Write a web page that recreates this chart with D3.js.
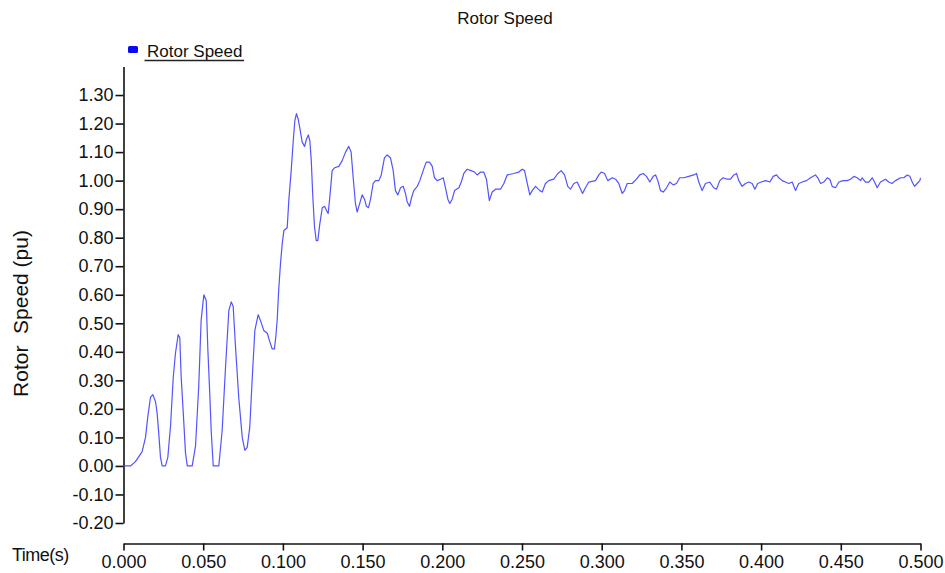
<!DOCTYPE html>
<html>
<head>
<meta charset="utf-8">
<script src="https://cdn.jsdelivr.net/npm/d3@7"></script>
<style>
  body { margin: 0; background: #fff; }
  text { font-family: "Liberation Sans", Arial, sans-serif; fill: #111; }
</style>
</head>
<body>
<div id="chart"></div>
<script>
/* Rotor Speed vs time */

// time (s), speed (pu)
const startup = [
  [0.0000,0.000],[0.0044,0.000],[0.0075,0.015],[0.0117,0.050],[0.0138,0.100],[0.0152,0.170],[0.0169,0.240],[0.0184,0.250],
  [0.0201,0.225],[0.0211,0.185],[0.0221,0.115],[0.0232,0.030],[0.0243,0.000],[0.0263,0.000],[0.0278,0.030],[0.0295,0.140],
  [0.0312,0.310],[0.0326,0.395],[0.0343,0.460],[0.0353,0.450],[0.0362,0.310],[0.0375,0.185],[0.0389,0.045],[0.0400,0.000],
  [0.0431,0.000],[0.0452,0.070],[0.0472,0.280],[0.0487,0.510],[0.0504,0.600],[0.0519,0.580],[0.0529,0.410],[0.0541,0.255],
  [0.0550,0.125],[0.0563,0.000],[0.0598,0.000],[0.0619,0.125],[0.0640,0.345],[0.0661,0.545],[0.0676,0.575],[0.0688,0.560],
  [0.0703,0.415],[0.0723,0.240],[0.0745,0.100],[0.0761,0.055],[0.0776,0.065],[0.0792,0.135],[0.0807,0.300],[0.0824,0.475],
  [0.0845,0.530],[0.0859,0.510],[0.0880,0.475],[0.0902,0.465],[0.0918,0.435],[0.0933,0.410],[0.0947,0.410],[0.0955,0.450],
  [0.0964,0.510],[0.0974,0.620],[0.0985,0.710]
];
const transient = [
  [0.0996,0.780],[0.1006,0.825],[0.1027,0.835],[0.1037,0.930],[0.1052,1.035],[0.1065,1.140],[0.1075,1.210],[0.1085,1.235],
  [0.1096,1.215],[0.1106,1.185],[0.1121,1.135],[0.1136,1.120],[0.1148,1.145],[0.1159,1.160],[0.1169,1.140],[0.1178,1.070],
  [0.1188,0.940],[0.1198,0.840],[0.1209,0.790],[0.1219,0.790],[0.1232,0.850],[0.1247,0.905],[0.1261,0.910],[0.1274,0.895],
  [0.1284,0.885],[0.1294,0.940],[0.1309,1.035],[0.1324,1.045],[0.1351,1.050],[0.1372,1.070],[0.1393,1.100],[0.1413,1.120],
  [0.1428,1.100],[0.1441,1.010],[0.1455,0.920],[0.1466,0.890],[0.1482,0.920],[0.1497,0.950],[0.1512,0.935],[0.1524,0.910],
  [0.1537,0.905],[0.1550,0.935],[0.1566,0.990],[0.1581,1.000],[0.1602,1.000],[0.1617,1.020],[0.1637,1.080],[0.1654,1.090],
  [0.1675,1.080],[0.1692,1.035],[0.1706,0.965],[0.1721,0.950],[0.1738,0.975],[0.1755,0.980],[0.1769,0.955],[0.1780,0.925],
  [0.1794,0.910],[0.1807,0.940],[0.1821,0.965],[0.1843,0.980],[0.1859,1.000],[0.1880,1.035],[0.1899,1.065],[0.1920,1.065],
  [0.1937,1.050],[0.1951,1.010],[0.1968,1.000],[0.1989,1.005],[0.2006,1.010],[0.2020,0.975],[0.2035,0.935],[0.2047,0.920],
  [0.2062,0.935],[0.2077,0.965],[0.2104,0.975],[0.2119,0.995],[0.2135,1.025],[0.2156,1.040],[0.2181,1.035],[0.2202,1.030],
  [0.2219,1.020],[0.2240,1.030],[0.2260,1.030],[0.2277,1.005],[0.2295,0.930],[0.2313,0.960],[0.2334,0.970],[0.2365,0.970],
  [0.2386,0.990],[0.2407,1.020],[0.2449,1.025],[0.2480,1.030]
];
const steady = [
  [0.2501,1.040],[0.2516,1.035],[0.2533,0.990],[0.2549,0.950],[0.2564,0.965],[0.2585,0.980],[0.2612,0.965],[0.2627,0.960],
  [0.2647,0.990],[0.2668,1.000],[0.2699,1.005],[0.2725,1.025],[0.2746,1.035],[0.2767,1.020],[0.2787,0.980],[0.2804,0.970],
  [0.2825,0.990],[0.2846,0.995],[0.2863,0.975],[0.2880,0.955],[0.2898,0.975],[0.2919,0.995],[0.2961,1.000],[0.2982,1.020],
  [0.2997,1.030],[0.3018,1.025],[0.3038,1.000],[0.3066,1.010],[0.3087,1.005],[0.3107,0.990],[0.3129,0.955],[0.3143,0.965],
  [0.3160,0.990],[0.3191,0.990],[0.3218,1.005],[0.3239,1.020],[0.3260,1.025],[0.3281,1.015],[0.3302,0.995],[0.3323,1.015],
  [0.3338,1.020],[0.3352,1.000],[0.3369,0.965],[0.3386,0.960],[0.3407,0.975],[0.3427,0.995],[0.3449,0.985],[0.3469,0.990],
  [0.3490,1.010],[0.3515,1.010],[0.3546,1.015],[0.3578,1.020],[0.3595,1.025],[0.3609,0.995],[0.3630,0.965],[0.3651,0.990],
  [0.3678,0.995],[0.3703,0.975],[0.3720,0.970],[0.3741,1.000],[0.3762,1.010],[0.3787,1.005],[0.3808,1.005],[0.3829,1.020],
  [0.3846,1.025],[0.3860,1.000],[0.3881,0.980],[0.3902,0.990],[0.3923,0.995],[0.3944,0.990],[0.3961,0.970],[0.3979,0.990],
  [0.4001,0.995],[0.4028,1.000],[0.4055,0.995],[0.4076,1.015],[0.4097,1.020],[0.4111,1.010],[0.4132,1.000],[0.4153,0.995],
  [0.4174,0.990],[0.4195,0.995],[0.4216,0.965],[0.4236,0.990],[0.4258,0.995],[0.4285,1.000],[0.4310,1.010],[0.4341,1.020],
  [0.4356,1.010],[0.4373,0.990],[0.4393,0.995],[0.4415,1.010],[0.4431,1.005],[0.4446,0.980],[0.4467,0.975],[0.4488,0.995],
  [0.4515,1.000],[0.4540,1.000],[0.4561,1.005],[0.4582,1.015],[0.4603,1.010],[0.4624,1.000],[0.4634,1.010],[0.4655,0.995],
  [0.4676,0.995],[0.4697,1.010],[0.4712,0.995],[0.4728,0.975],[0.4749,0.995],[0.4780,1.005],[0.4801,0.995],[0.4822,0.990],
  [0.4843,1.000],[0.4875,1.010],[0.4895,1.010],[0.4917,1.020],[0.4933,1.015],[0.4948,0.995],[0.4962,0.980],[0.4979,0.990],
  [0.4996,1.000],[0.5000,1.010]
];

const xTicks = [0, 0.05, 0.1, 0.15, 0.2, 0.25, 0.3, 0.35, 0.4, 0.45, 0.5];
const yTicks = [-0.2, -0.1, 0, 0.1, 0.2, 0.3, 0.4, 0.5, 0.6, 0.7, 0.8, 0.9, 1.0, 1.1, 1.2, 1.3];

const width = 945,
      height = 573;

const data = startup.concat(transient, steady);

let svg = d3.select("#chart")
    .append("svg")
    .attr("width", width)
    .attr("height", height);

let x = d3.scaleLinear()
    .domain([0, 0.5])
    .range([123.5, 920.5]);

let y = d3.scaleLinear()
    .domain([-0.2, 1.4]) // axis line runs up to 1.40, no label there
    .range([523, 66.5]);

// y axis
let yAxis = svg.append("g")
    .attr("transform", "translate(123.5,0)")
    .call(d3.axisLeft(y)
        .tickValues(yTicks)
        .tickFormat(d => d.toFixed(2))
        .tickSize(8)
        .tickSizeOuter(0)
        .tickPadding(2));

// x axis, sits below the y axis with a gap
let xAxis = svg.append("g")
    .attr("transform", "translate(0,543.5)")
    .call(d3.axisBottom(x)
        .tickValues(xTicks)
        .tickFormat(d => d.toFixed(3))
        .tickSize(7)
        .tickSizeOuter(0)
        .tickPadding(5));

for (let ax of [xAxis, yAxis]) {
    ax.selectAll("path, line").attr("stroke", "#111").attr("stroke-width", 1.6);
    ax.selectAll("text")
        .style("font-size", "18px")
        .style("font-family", "'Liberation Sans', Arial, sans-serif")
        .attr("fill", "#111");
}

// the curve
let line = d3.line()
    .x(d => x(d[0]))
    .y(d => y(d[1]));

svg.append("path")
    .datum(data)
    .attr("fill", "none")
    .attr("stroke", "#4040ff")
    .attr("stroke-width", 1.2)
    .attr("stroke-opacity", 0.9)
    .attr("stroke-linejoin", "round")
    .attr("d", line);

// title
svg.append("text")
    .attr("x", 505)
    .attr("y", 24)
    .attr("text-anchor", "middle")
    .style("font-size", "17px")
    .text("Rotor Speed");

// legend
svg.append("rect")
    .attr("x", 128)
    .attr("y", 46)
    .attr("width", 10)
    .attr("height", 7)
    .attr("rx", 1.5)
    .attr("fill", "#0a0af0");

svg.append("text")
    .attr("x", 147)
    .attr("y", 57)
    .style("font-size", "17px")
    .text("Rotor Speed");

svg.append("line")
    .attr("x1", 144.5)
    .attr("x2", 244)
    .attr("y1", 60.5)
    .attr("y2", 60.5)
    .attr("stroke", "#222")
    .attr("stroke-width", 1.5);

// axis titles
svg.append("text")
    .attr("transform", "translate(28,313.5) rotate(-90)")
    .attr("text-anchor", "middle")
    .style("font-size", "21px")
    .style("white-space", "pre")
    .text("Rotor  Speed (pu)");

svg.append("text")
    .attr("x", 12)
    .attr("y", 561)
    .style("font-size", "18px")
    .style("letter-spacing", "-0.5px")
    .text("Time(s)");
</script>
</body>
</html>
